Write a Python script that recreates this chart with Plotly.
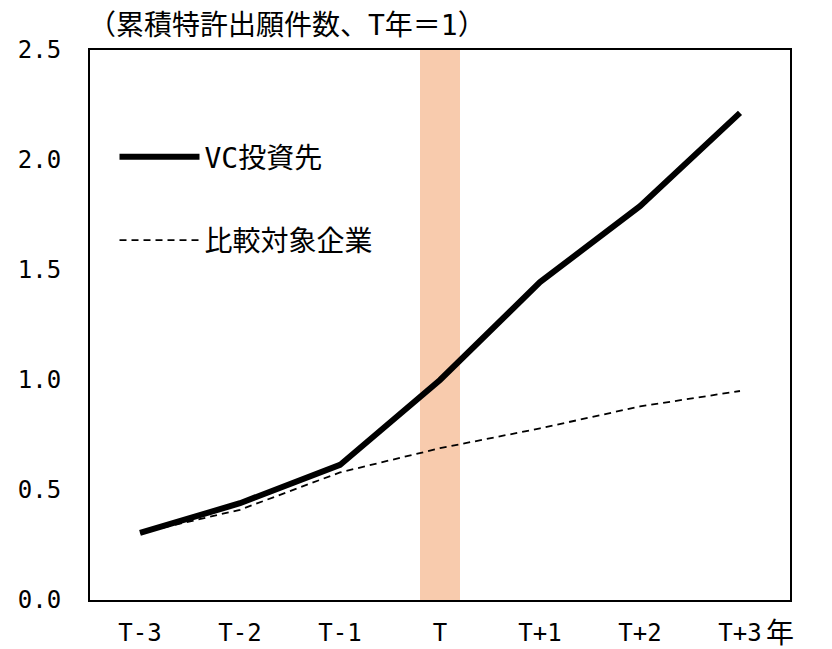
import plotly.graph_objects as go

# Years relative to the investment year T
periods = ["T-3", "T-2", "T-1", "T", "T+1", "T+2", "T+3"]

# Cumulative patent applications, indexed to year T = 1
vc_backed = [0.305, 0.44, 0.614, 1.0, 1.445, 1.79, 2.214]
comparison = [0.305, 0.41, 0.58, 0.69, 0.78, 0.88, 0.95]

y_ticks = [0.0, 0.5, 1.0, 1.5, 2.0, 2.5]

FONT = "DejaVu Sans Mono, Noto Sans CJK JP, sans-serif"
BAND_COLOR = "#F8CBAD"

fig = go.Figure()

fig.add_trace(go.Scatter(
    x=periods, y=vc_backed, mode="lines", name="VC投資先",
    line=dict(color="black", width=6), legendgroup="a",
))
fig.add_trace(go.Scatter(
    x=periods, y=comparison, mode="lines", name="比較対象企業",
    line=dict(color="black", width=1.8, dash="7px,5px"), legendgroup="b",
))

# highlight the investment year
fig.add_shape(
    type="rect", xref="x", yref="paper",
    x0=2.8, x1=3.2, y0=0, y1=1,
    fillcolor=BAND_COLOR, line=dict(width=0), layer="below",
)

fig.add_annotation(
    text="（累積特許出願件数、T年＝1）", xref="paper", yref="paper",
    x=0.0, y=1.0, xanchor="left", yanchor="bottom", yshift=6, xshift=-4,
    showarrow=False, font=dict(size=28, color="black", family=FONT),
)
fig.add_annotation(
    text="年", xref="paper", yref="paper",
    x=1.0, y=0.0, xanchor="center", yanchor="top", xshift=-10, yshift=-15,
    showarrow=False, font=dict(size=28, color="black", family=FONT),
)

fig.update_layout(
    width=832, height=649,
    margin=dict(l=90, r=42, t=50, b=49),
    paper_bgcolor="white", plot_bgcolor="white",
    font=dict(family=FONT, size=24, color="black"),
    showlegend=True,
    legend=dict(
        x=0.035, y=0.73, xanchor="left", yanchor="middle",
        bgcolor="rgba(0,0,0,0)", font=dict(size=28, family=FONT),
        tracegroupgap=44, itemwidth=80,
    ),
    xaxis=dict(
        type="category", range=[-0.5, 6.5], automargin=False,
        showline=True, linecolor="black", linewidth=2, mirror=True,
        showgrid=False, ticks="", ticklabelstandoff=10,
        tickfont=dict(size=24),
    ),
    yaxis=dict(
        range=[0, 2.5], tickvals=y_ticks, tickformat=".1f", automargin=False,
        showline=True, linecolor="black", linewidth=2, mirror=True,
        showgrid=False, zeroline=False, ticks="", ticklabelstandoff=22,
        tickfont=dict(size=24),
    ),
)

fig.write_html("out.html")
